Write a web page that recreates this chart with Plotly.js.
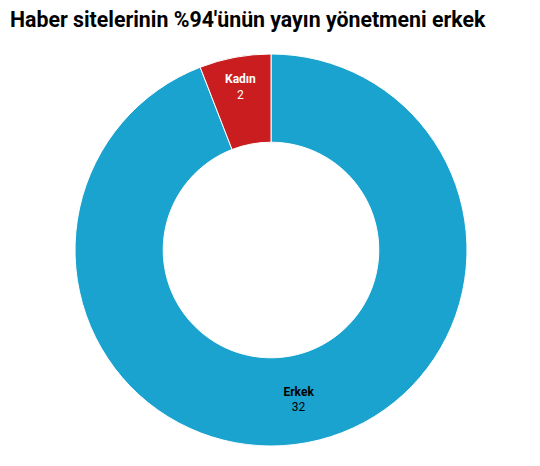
<!DOCTYPE html>
<html><head><meta charset="utf-8">
<script src="https://cdn.plot.ly/plotly-3.0.1.min.js"></script>
<style>html,body{margin:0;padding:0;background:#fff}#c{width:540px;height:466px}</style>
</head><body><div id="c"></div>
<script>
const labels = ["Erkek", "Kadın"];
const values = [32, 2];
const colors = ["#1aa3cf", "#c91d1f"];
const textColors = ["#000000", "#ffffff"];

Plotly.newPlot("c", [{
  type: "pie",
  labels: labels,
  values: values,
  hole: 0.55,
  sort: false,
  direction: "clockwise",
  rotation: 0,
  marker: {colors: colors, line: {color: "#ffffff", width: 1}},
  texttemplate: "<b>%{label}</b><br>%{value}",
  textposition: "inside",
  insidetextorientation: "horizontal",
  insidetextfont: {family: "Roboto", size: 12, color: textColors},
  showlegend: false,
  hoverinfo: "label+value"
}], {
  width: 540, height: 466,
  margin: {l: 75, r: 73, t: 54, b: 20},
  paper_bgcolor: "#fff",
  title: {
    text: "<b>Haber sitelerinin %94'ünün yayın yönetmeni erkek</b>",
    font: {family: "Roboto", size: 21.3, color: "#000"},
    x: 10/540, xanchor: "left", xref: "container",
    y: 1 - 20/466, yanchor: "middle", yref: "container"
  }
}, {displayModeBar: false, staticPlot: true});
</script></body></html>
